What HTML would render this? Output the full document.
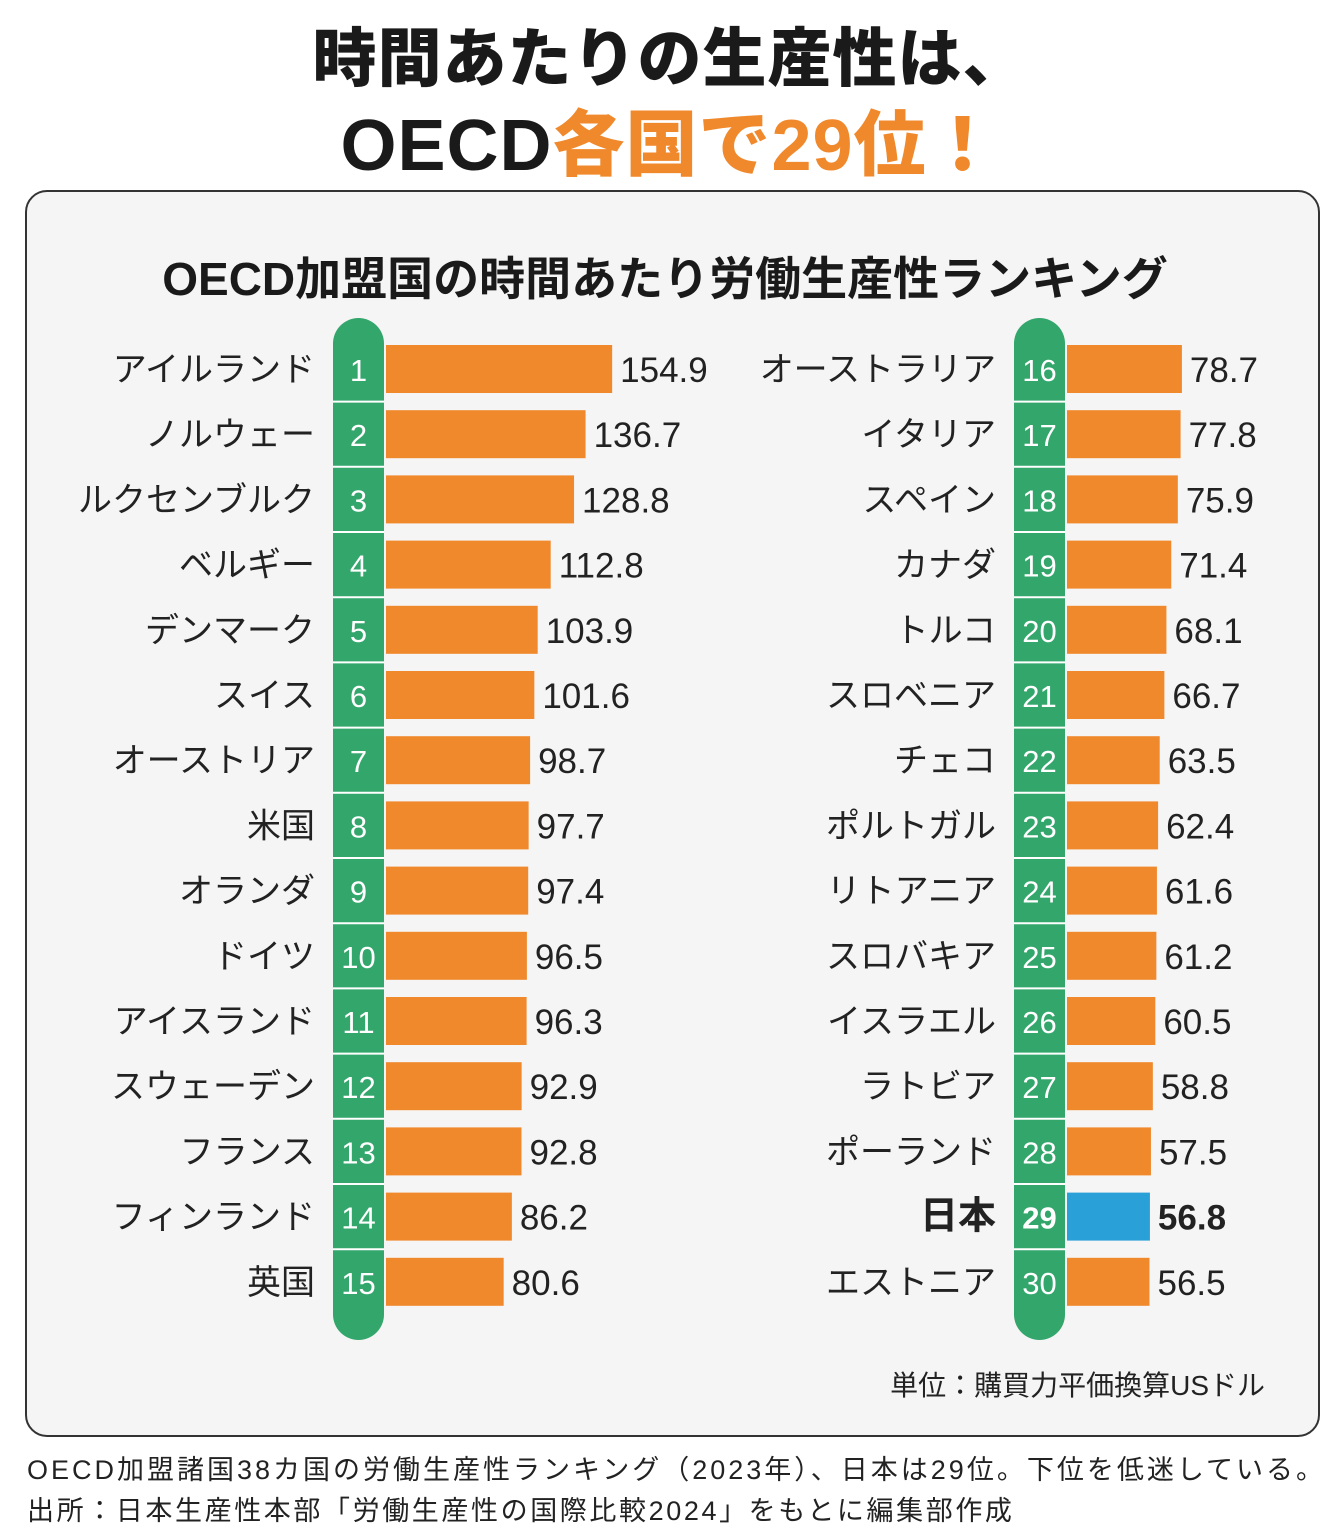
<!DOCTYPE html>
<html><head><meta charset="utf-8"><style>
body{margin:0;width:1340px;height:1540px;background:#fff;font-family:"Liberation Sans","Noto Sans CJK JP",sans-serif;position:relative;overflow:hidden;color:#222}
.t{position:absolute;white-space:nowrap}
</style></head><body>
<div class="t" style="left:0;width:1340px;text-align:center;top:8px;font-size:64px;letter-spacing:1px;font-weight:900;color:#1a1a1a">時間あたりの生産性は、</div>
<div class="t" style="left:0;width:1340px;text-align:center;top:86px;font-size:72px;letter-spacing:1px;font-weight:900;color:#1a1a1a">OECD<span style="color:#f0892c">各国で29位！</span></div>
<div style="position:absolute;left:25px;top:190px;width:1291px;height:1243px;border:2px solid #333;border-radius:22px;background:#f5f5f5"></div>
<div class="t" style="left:0;width:1330px;text-align:center;top:243px;font-size:46px;font-weight:bold;color:#1a1a1a">OECD加盟国の時間あたり労働生産性ランキング</div>
<svg id="c" width="1340" height="1540" style="position:absolute;left:0;top:0"></svg>
<div class="t" style="right:75px;top:1364px;font-size:28px;color:#222">単位：購買力平価換算USドル</div>
<div class="t" style="left:27px;top:1448px;font-size:27px;letter-spacing:3px;color:#222">OECD加盟諸国38カ国の労働生産性ランキング（2023年）、日本は29位。下位を低迷している。</div>
<div class="t" style="left:27px;top:1489px;font-size:27px;letter-spacing:2.6px;color:#222">出所：日本生産性本部「労働生産性の国際比較2024」をもとに編集部作成</div>
<script>
const countries=["アイルランド","ノルウェー","ルクセンブルク","ベルギー","デンマーク","スイス","オーストリア","米国","オランダ","ドイツ","アイスランド","スウェーデン","フランス","フィンランド","英国","オーストラリア","イタリア","スペイン","カナダ","トルコ","スロベニア","チェコ","ポルトガル","リトアニア","スロバキア","イスラエル","ラトビア","ポーランド","日本","エストニア"];
const values=[154.9,136.7,128.8,112.8,103.9,101.6,98.7,97.7,97.4,96.5,96.3,92.9,92.8,86.2,80.6,78.7,77.8,75.9,71.4,68.1,66.7,63.5,62.4,61.6,61.2,60.5,58.8,57.5,56.8,56.5];
const ranks=countries.map((c,i)=>i+1);
const highlight="日本";
const svg=document.getElementById('c');const NS='http://www.w3.org/2000/svg';
function mk(t,a,p){const e=document.createElementNS(NS,t);for(const k in a)e.setAttribute(k,a[k]);(p||svg).appendChild(e);return e;}
const scale=v=>v*1.46;
const rowY=i=>369+(i%15)*65.2;
const cols=[{px:333,bx:386},{px:1014,bx:1067}];
cols.forEach((c,ci)=>{
 const p=mk('rect',{x:c.px,y:318,width:51,height:1022,rx:25.5,fill:'#33a66c'});
 
 
});
countries.forEach((name,i)=>{
 const c=cols[Math.floor(i/15)],y=rowY(i),hl=name===highlight;
 if(i%15<14){const s=mk('line',{x1:c.px,x2:c.px+51,y1:y+32.6,y2:y+32.6,stroke:'#fff','stroke-width':2});
 
 }
 const b=mk('rect',{x:c.bx,y:y-24,width:scale(values[i]),height:48,fill:hl?'#2aa0d8':'#f0892c'});
 
 
 const r=mk('text',{x:c.px+25.5,y:y+12,'text-anchor':'middle','font-size':31,fill:'#fff','font-weight':hl?'bold':'normal'});r.textContent=ranks[i];
 
 
 const l=mk('text',{x:c.px-18,y:y+12,'text-anchor':'end','font-size':hl?38:34,fill:'#222','font-weight':hl?'bold':'normal'});l.textContent=name;
 
 
 const v=mk('text',{x:c.bx+scale(values[i])+8,y:y+13,'font-size':35,fill:'#222','font-weight':hl?'bold':'normal'});v.textContent=values[i].toFixed(1);
 
 
});
</script>
</body></html>
